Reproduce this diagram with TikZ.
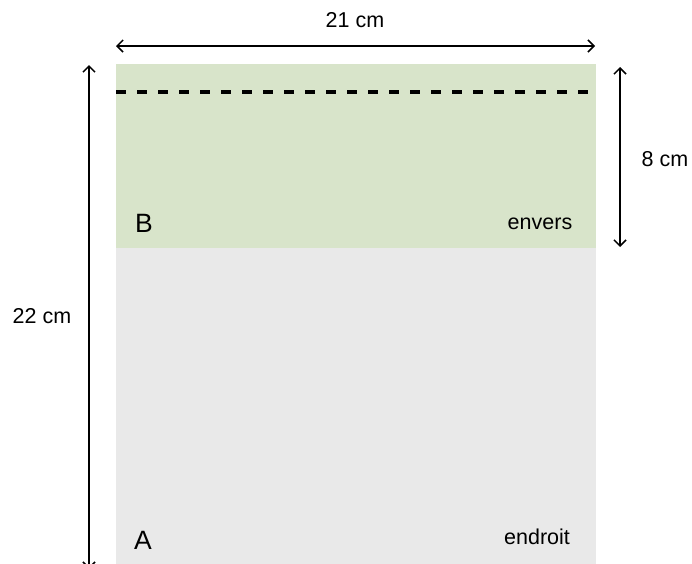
\documentclass[tikz,border=0pt]{standalone}
\usepackage{fontspec}
\setmainfont{Liberation Sans}
\usetikzlibrary{arrows.meta}
\definecolor{versgreen}{RGB}{216,228,202}
\definecolor{droitgray}{RGB}{233,233,233}
\tikzset{
  dimarrow/.style={line width=1.5pt, {Straight Barb[length=6pt,width=12pt]}-{Straight Barb[length=6pt,width=12pt]}},
  foldline/.style={line width=4.5pt, dash pattern=on 10pt off 11pt},
  dimlabel/.style={anchor=base, inner sep=0pt, font=\fontsize{21.5}{25}\selectfont},
  sidelabel/.style={anchor=base, inner sep=0pt, font=\fontsize{26.5}{30}\selectfont},
}
\begin{document}
\begin{tikzpicture}[x=1pt, y=-1pt]
  \useasboundingbox (0,0) rectangle (692,563);

  % the sheet
  \coordinate (sheetnw) at (116,64);
  \coordinate (foldw) at (116,248);
  \coordinate (folde) at (596,248);
  \coordinate (sheetse) at (596,570);
  \fill[versgreen] (sheetnw) rectangle (folde);
  \fill[droitgray] (foldw) rectangle (sheetse);

  \coordinate (dashw) at (116,92);
  \coordinate (dashe) at (596,92);
  \draw[foldline] (dashw) -- (dashe);

  % dimensions
  \coordinate (widthw) at (116,46);
  \coordinate (widthe) at (595,46);
  \draw[dimarrow] (widthw) -- (widthe);

  \coordinate (heightn) at (89,65);
  \coordinate (heights) at (89,569);
  \draw[dimarrow] (heightn) -- (heights);

  \coordinate (flapn) at (620,67);
  \coordinate (flaps) at (620,247);
  \draw[dimarrow] (flapn) -- (flaps);

  \node[dimlabel] (width) at (355,27) {21 cm};
  \node[dimlabel] (height) at (42,323) {22 cm};
  \node[dimlabel] (flap) at (665,166) {8 cm};

  % faces
  \node[sidelabel] (sideb) at (144,232) {B};
  \node[dimlabel] (envers) at (540,229) {envers};
  \node[sidelabel] (sidea) at (143,549) {A};
  \node[dimlabel] (endroit) at (537,544) {endroit};
\end{tikzpicture}
\end{document}
